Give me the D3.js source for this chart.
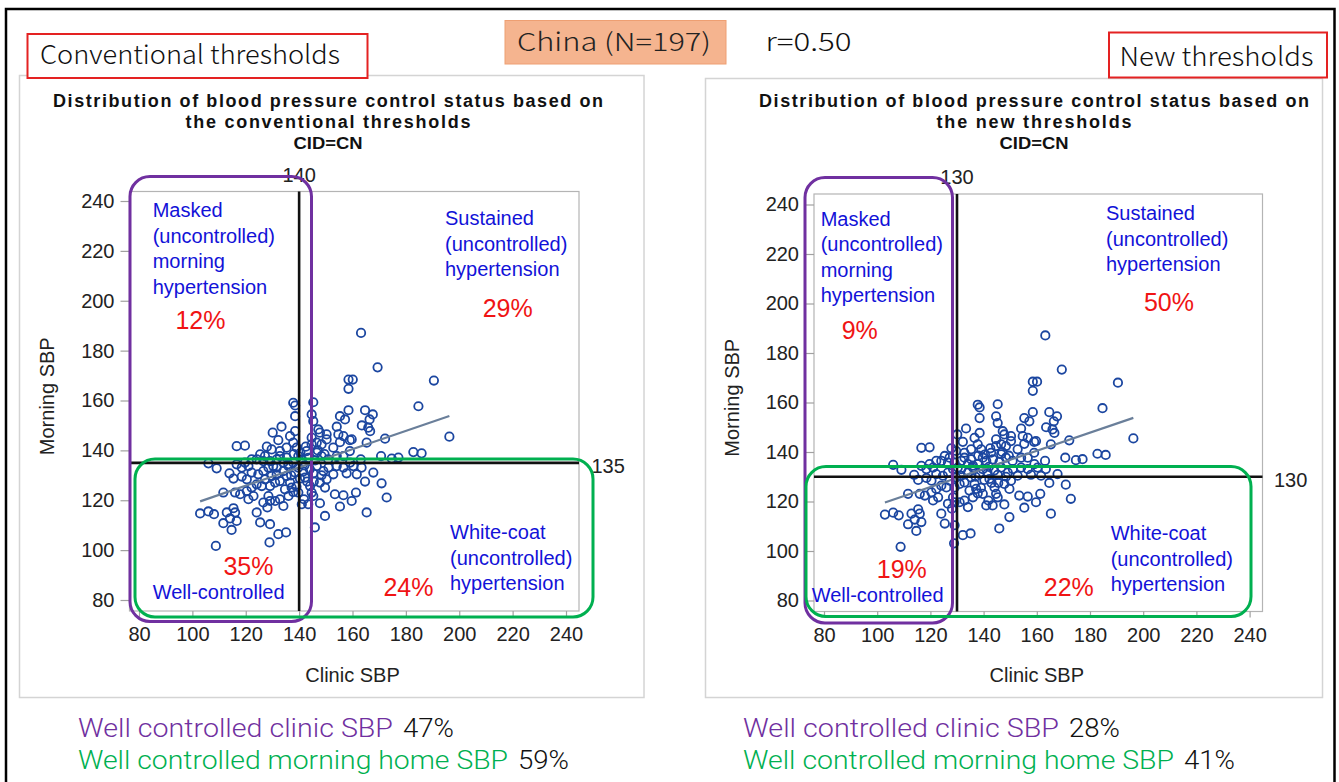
<!DOCTYPE html>
<html>
<head>
<meta charset="utf-8">
<script src="https://cdn.jsdelivr.net/npm/d3@7/dist/d3.min.js"></script>
<style>
  body { margin: 0; background: #fff; }
  svg { display: block; }
  .sas { font-family: 'Liberation Sans', Arial, sans-serif; }
  .jp { font-family: 'Noto Sans CJK JP', 'Noto Sans', sans-serif; font-weight: 300; }
  .thin { font-family: Roboto, 'Liberation Sans', sans-serif; font-weight: 300; }
</style>
</head>
<body>
<svg id="chart" width="1339" height="782"></svg>
<script>
// clinic vs morning home SBP, one pair per patient (China, N=197)
const clinicSBP = [
  163.2, 169.4, 190.5, 158.5, 160.1, 158.5, 184.7, 196.3, 137.8, 138.5,
  145.3, 138.5, 144.7, 145.3, 158.5, 164.7, 167.6, 166.4, 163.5, 165.9,
  166.6, 155.3, 157.2, 154.1, 154.7, 156.6, 159.0, 159.7, 165.3, 172.2,
  182.8, 185.9, 177.2, 174.7, 170.7, 163.1, 150.3, 147.8, 146.6, 148.4,
  150.3, 152.8, 155.3, 159.0, 156.6, 116.6, 119.7, 133.4, 130.1, 136.6,
  138.5, 132.2, 127.9, 129.7, 125.4, 127.2, 135.3, 132.8, 137.8, 139.1,
  124.1, 106.0, 109.1, 113.9, 115.4, 118.5, 121.0, 122.2, 124.7, 118.5,
  120.4, 126.6, 128.5, 130.3, 131.6, 134.1, 127.2, 129.7, 131.6, 111.6,
  116.0, 117.9, 120.4, 122.2, 124.1, 126.0, 129.1, 131.0, 128.5, 129.1,
  126.6, 128.1, 132.8, 134.1, 131.0, 121.0, 122.9, 102.9, 106.0, 108.1,
  112.9, 115.4, 116.0, 114.1, 111.6, 114.7, 116.6, 124.1, 125.4, 129.1,
  132.2, 135.1, 128.9, 108.8, 137.8, 139.7, 141.0, 139.7, 138.5, 140.3,
  137.8, 139.7, 141.8, 141.0, 144.7, 145.3, 143.4, 147.8, 149.7, 145.9,
  142.2, 144.1, 146.6, 149.1, 151.0, 152.8, 150.3, 154.1, 156.6, 159.1,
  160.3, 157.8, 161.6, 163.4, 167.8, 164.7, 170.9, 172.8, 165.3, 155.3,
  153.4, 156.6, 159.7, 161.3, 149.7, 147.8, 148.4, 145.3, 142.8, 144.7,
  146.6, 148.4, 150.9, 154.1, 144.7, 147.2, 119.7, 116.6, 122.2, 126.6,
  129.1, 132.8, 135.3, 136.0, 131.6, 134.1, 135.3, 136.6, 137.2, 132.8,
  134.7, 136.0, 140.5, 142.0, 143.5, 141.5, 143.0, 146.0, 138.0, 137.0,
  136.0, 144.0, 147.0, 149.5, 142.5, 139.0, 145.5
];
const morningSBP = [
  187.1, 173.3, 168.0, 168.4, 168.4, 164.7, 157.7, 145.5, 159.1, 158.0,
  159.3, 153.7, 154.4, 151.7, 156.1, 156.1, 154.4, 152.4, 150.0, 149.1,
  147.7, 153.7, 152.4, 149.5, 146.4, 145.7, 144.1, 144.4, 143.1, 144.7,
  139.3, 138.8, 137.1, 136.7, 137.7, 136.4, 146.4, 147.1, 143.1, 142.4,
  144.4, 141.1, 143.3, 139.7, 137.7, 141.7, 141.9, 149.5, 147.1, 145.7,
  147.7, 144.1, 141.5, 140.4, 138.4, 137.7, 141.1, 139.7, 143.1, 141.1,
  136.4, 134.8, 132.8, 130.8, 128.7, 133.1, 133.7, 131.1, 130.4, 129.5,
  128.4, 131.7, 133.1, 133.7, 136.4, 135.1, 128.4, 129.7, 130.4, 123.1,
  123.1, 122.4, 123.7, 125.1, 126.4, 125.7, 125.7, 127.1, 121.7, 119.7,
  119.1, 117.1, 120.4, 117.7, 119.7, 120.4, 121.7, 114.7, 115.5, 114.4,
  115.1, 116.8, 115.1, 112.7, 110.8, 108.1, 111.7, 115.1, 111.1, 110.4,
  106.4, 107.1, 103.1, 101.7, 135.1, 137.7, 136.4, 133.1, 131.1, 128.7,
  123.3, 123.1, 120.4, 118.4, 123.1, 121.7, 118.4, 118.8, 113.7, 109.1,
  129.1, 125.7, 133.7, 131.7, 133.1, 130.4, 128.4, 133.7, 133.1, 135.1,
  133.7, 130.8, 130.4, 133.1, 131.1, 127.5, 126.8, 121.1, 115.1, 117.5,
  122.4, 122.0, 119.7, 123.1, 125.1, 127.1, 130.0, 130.8, 139.7, 142.4,
  139.1, 137.7, 136.4, 137.7, 145.1, 148.4, 135.1, 134.4, 136.4, 135.7,
  135.7, 137.7, 137.1, 133.7, 133.1, 131.7, 129.7, 127.1, 125.1, 127.7,
  124.4, 121.7, 139.0, 134.0, 137.0, 131.5, 127.5, 136.0, 138.5, 130.0,
  134.5, 132.5, 140.0, 138.5, 141.5, 125.5, 127.5
];

const axisTicks = [80, 100, 120, 140, 160, 180, 200, 220, 240];
const conventionalCut = [140, 135];   // clinic, morning
const newCut = [130, 130];
const quadrantNames = [
  ['Masked', '(uncontrolled)', 'morning', 'hypertension'],
  ['Sustained', '(uncontrolled)', 'hypertension'],
  ['Well-controlled'],
  ['White-coat', '(uncontrolled)', 'hypertension']
];
const conventionalShares = ['12%', '29%', '35%', '24%'];
const newShares = ['9%', '50%', '19%', '22%'];
const summaryLabels = ['Well controlled clinic SBP', 'Well controlled morning home SBP'];
const conventionalSummary = ['47%', '59%'];
const newSummary = ['28%', '41%'];

const BLUE = '#1212d8', RED = '#f01414', PURPLE = '#7030a0', GREEN = '#00b050';

const svg = d3.select('#chart');
svg.append('rect').attr('width', 1339).attr('height', 782).attr('fill', '#fff');

const panels = [
  {
    panel: [19.5, 75.5, 624.5, 622],
    frame: [129.5, 191.5, 579, 611],
    xRange: [139, 566], yRange: [600, 201],
    titleX: 328, subtitle: 'the conventional thresholds', subtitleLen: 285,
    cut: conventionalCut, shares: conventionalShares,
    purple: [130, 176.5, 311.5, 621.5], green: [135, 459, 593, 617],
    cutLabelX: 591.5,
    names: [[152.7, 217], [445, 225], [152.7, 599], [450, 539]],
    sharesAt: [[200.5, 329], [507.7, 317], [248.5, 575], [408.5, 596]],
    yLabelX: 47,
    header: {text: 'Conventional thresholds', box: [27.5, 34, 340, 44], x: 40, y: 64, len: 300},
    summary: conventionalSummary, summaryX: 78, summaryLens: [315, 430]
  },
  {
    panel: [705.5, 78.5, 617, 619],
    frame: [814, 194, 1262.5, 611.5],
    xRange: [824, 1249.6], yRange: [600.5, 204.5],
    titleX: 1034, subtitle: 'the new thresholds', subtitleLen: 195,
    cut: newCut, shares: newShares,
    purple: [805, 177.5, 952.5, 623], green: [806, 466.5, 1251, 616.5],
    cutLabelX: 1274,
    names: [[820.7, 225.5], [1106, 220], [811.7, 602], [1110.7, 540]],
    sharesAt: [[859.8, 339], [1169, 310.5], [901.8, 578], [1068.8, 595.5]],
    yLabelX: 732,
    header: {text: 'New thresholds', box: [1109, 32.5, 218, 45], x: 1119.5, y: 66, len: 194},
    summary: newSummary, summaryX: 743, summaryLens: [316, 431]
  }
];

// least squares fit for the trend line
const mx = d3.mean(clinicSBP), my = d3.mean(morningSBP);
const slope = d3.sum(clinicSBP, (c, i) => (c - mx) * (morningSBP[i] - my)) /
  d3.sum(clinicSBP, (c) => (c - mx) * (c - mx));
const fitEnds = d3.extent(clinicSBP);

function drawPanel(p) {
  const g = svg.append('g');
  const x = d3.scaleLinear().domain([80, 240]).range(p.xRange);
  const y = d3.scaleLinear().domain([80, 240]).range(p.yRange);
  const [fl, ft, fr, fb] = p.frame;

  g.append('rect')
    .attr('x', p.panel[0]).attr('y', p.panel[1])
    .attr('width', p.panel[2]).attr('height', p.panel[3])
    .attr('fill', '#fff').attr('stroke', '#d4d4d4').attr('stroke-width', 1.5);

  // plot title
  const title = g.append('g').attr('class', 'sas').attr('text-anchor', 'middle')
    .attr('font-weight', 'bold').attr('fill', '#111');
  title.append('text').attr('x', p.titleX).attr('y', 106.5).attr('font-size', 18)
    .attr('textLength', 550).attr('lengthAdjust', 'spacing')
    .text('Distribution of blood pressure control status based on');
  title.append('text').attr('x', p.titleX).attr('y', 128).attr('font-size', 18)
    .attr('textLength', p.subtitleLen).attr('lengthAdjust', 'spacing')
    .text(p.subtitle);
  title.append('text').attr('x', p.titleX).attr('y', 148.5).attr('font-size', 16)
    .attr('textLength', 69).attr('lengthAdjust', 'spacingAndGlyphs')
    .text('CID=CN');

  g.append('rect')
    .attr('x', fl).attr('y', ft).attr('width', fr - fl).attr('height', fb - ft)
    .attr('fill', 'none').attr('stroke', '#b4b4b4').attr('stroke-width', 1.2);

  // axes
  const xAxis = g.append('g').attr('transform', `translate(0,${fb})`)
    .call(d3.axisBottom(x).tickValues(axisTicks).tickSize(6).tickSizeOuter(0));
  const yAxis = g.append('g').attr('transform', `translate(${fl},0)`)
    .call(d3.axisLeft(y).tickValues(axisTicks).tickSize(9).tickSizeOuter(0).tickPadding(6));
  [xAxis, yAxis].forEach((a) => {
    a.select('.domain').remove();
    a.selectAll('line').attr('stroke', '#a0a0a0').attr('stroke-width', 1.2);
    a.selectAll('text').attr('class', 'sas').attr('font-size', 20).attr('fill', '#222');
  });
  xAxis.selectAll('text').attr('dy', '1.05em');

  g.append('text').attr('class', 'sas').attr('font-size', 20).attr('fill', '#222')
    .attr('text-anchor', 'middle')
    .attr('x', (p.xRange[0] + p.xRange[1]) / 2).attr('y', 682)
    .text('Clinic SBP');
  g.append('text').attr('class', 'sas').attr('font-size', 20).attr('fill', '#222')
    .attr('text-anchor', 'middle')
    .attr('transform', `translate(${p.yLabelX + 7},${(ft + fb) / 2 - 5}) rotate(-90)`)
    .text('Morning SBP');

  // points
  g.append('g').selectAll('circle')
    .data(clinicSBP)
    .enter().append('circle')
    .attr('cx', (d) => x(d))
    .attr('cy', (d, i) => y(morningSBP[i]))
    .attr('r', 4.2)
    .attr('fill', 'none')
    .attr('stroke', '#1b46a0')
    .attr('stroke-width', 1.8);

  g.append('line')
    .attr('x1', x(fitEnds[0])).attr('y1', y(my + slope * (fitEnds[0] - mx)))
    .attr('x2', x(fitEnds[1])).attr('y2', y(my + slope * (fitEnds[1] - mx)))
    .attr('stroke', '#6a7f9a').attr('stroke-width', 2.2);

  // threshold cross
  g.append('line')
    .attr('x1', x(p.cut[0])).attr('x2', x(p.cut[0])).attr('y1', ft).attr('y2', fb)
    .attr('stroke', '#111').attr('stroke-width', 2.6);
  g.append('line')
    .attr('x1', fl).attr('x2', fr).attr('y1', y(p.cut[1])).attr('y2', y(p.cut[1]))
    .attr('stroke', '#111').attr('stroke-width', 2.6);
  g.append('text').attr('class', 'sas').attr('font-size', 20).attr('fill', '#222')
    .attr('text-anchor', 'middle')
    .attr('x', x(p.cut[0])).attr('y', ft - 10).text(p.cut[0]);
  g.append('text').attr('class', 'sas').attr('font-size', 20).attr('fill', '#222')
    .attr('x', p.cutLabelX).attr('y', y(p.cut[1]) + 10).text(p.cut[1]);

  // hand-drawn groupings
  [[p.purple, PURPLE], [p.green, GREEN]].forEach(([b, c]) => {
    g.append('rect')
      .attr('x', b[0]).attr('y', b[1]).attr('width', b[2] - b[0]).attr('height', b[3] - b[1])
      .attr('rx', 20).attr('fill', 'none').attr('stroke', c).attr('stroke-width', 3);
  });

  quadrantNames.forEach((lines, q) => {
    const t = g.append('text').attr('class', 'sas').attr('font-size', 20).attr('fill', BLUE);
    lines.forEach((s, k) => {
      t.append('tspan').attr('x', p.names[q][0]).attr('y', p.names[q][1] + k * 25.5).text(s);
    });
    g.append('text').attr('class', 'sas').attr('font-size', 25).attr('fill', RED)
      .attr('text-anchor', 'middle')
      .attr('x', p.sharesAt[q][0]).attr('y', p.sharesAt[q][1])
      .text(p.shares[q]);
  });

  // header tag
  const h = p.header;
  g.append('rect')
    .attr('x', h.box[0]).attr('y', h.box[1]).attr('width', h.box[2]).attr('height', h.box[3])
    .attr('fill', '#fff').attr('stroke', '#e42222').attr('stroke-width', 2);
  g.append('text').attr('class', 'jp').attr('font-size', 26).attr('fill', '#111')
    .attr('x', h.x).attr('y', h.y)
    .attr('textLength', h.len).attr('lengthAdjust', 'spacingAndGlyphs')
    .text(h.text);

  // summary lines below the panel
  summaryLabels.forEach((s, k) => {
    const yy = 737 + k * 32;
    g.append('text').attr('class', 'thin').attr('font-size', 26).attr('fill', k ? GREEN : PURPLE)
      .attr('x', p.summaryX).attr('y', yy)
      .attr('textLength', p.summaryLens[k]).attr('lengthAdjust', 'spacingAndGlyphs')
      .text(s);
    g.append('text').attr('class', 'thin').attr('font-size', 26).attr('fill', '#111')
      .attr('x', p.summaryX + p.summaryLens[k] + 10).attr('y', yy)
      .attr('textLength', 51).attr('lengthAdjust', 'spacingAndGlyphs')
      .text(p.summary[k]);
  });
}

panels.forEach(drawPanel);

// country tag and correlation
svg.append('rect')
  .attr('x', 505).attr('y', 20.5).attr('width', 221).attr('height', 43.5)
  .attr('fill', '#f5b48f').attr('stroke', '#ee9f72').attr('stroke-width', 1);
svg.append('text').attr('class', 'jp').attr('font-size', 25).attr('fill', '#222')
  .attr('x', 517).attr('y', 50.5)
  .attr('textLength', 194).attr('lengthAdjust', 'spacingAndGlyphs')
  .text('China (N=197)');
svg.append('text').attr('class', 'jp').attr('font-size', 25).attr('fill', '#111')
  .attr('x', 765.5).attr('y', 50.5)
  .attr('textLength', 86).attr('lengthAdjust', 'spacingAndGlyphs')
  .text('r=0.50');

svg.append('rect')
  .attr('x', 6).attr('y', 9).attr('width', 1328.5).attr('height', 800)
  .attr('fill', 'none').attr('stroke', '#000').attr('stroke-width', 2.5);
</script>
</body>
</html>
